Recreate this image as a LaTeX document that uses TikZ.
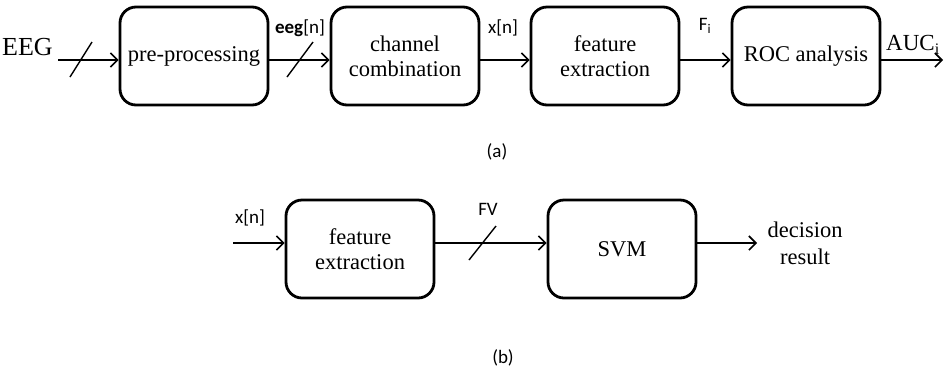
\documentclass[tikz,border=0pt]{standalone}
\usepackage{fontspec}
\setmainfont{Liberation Serif}
\newfontfamily\calib{Carlito}
\usetikzlibrary{arrows.meta}
\begin{document}
\begin{tikzpicture}[x=1pt,y=-1pt,
  blk/.style={draw,line width=2.8pt,rounded corners=16pt,minimum width=148pt,minimum height=98pt,align=center,font=\fontsize{22.5}{25}\selectfont,inner sep=0pt},
  conn/.style={line width=1.6pt,-{Straight Barb[length=7pt,width=14pt,line width=1.6pt]}},
  slash/.style={line width=1.4pt},
  lbl/.style={font=\calib\fontsize{19}{22}\selectfont,inner sep=0pt},
  tlbl/.style={font=\fontsize{23}{25}\selectfont,inner sep=0pt}]
\useasboundingbox (0,0) rectangle (944,376);
% row (a)
\node[blk] (pp) at (194,56) {\raisebox{-5pt}{pre-processing}};
\node[blk] (cc) at (405,56) {channel\\combination};
\node[blk] (fe) at (605,56) {feature\\extraction};
\node[blk] (roc) at (806,56) {\raisebox{-5pt}{ROC analysis}};
\coordinate (in) at (58,60);
\coordinate (out) at (943,60);
\node[tlbl,font=\fontsize{26}{28}\selectfont,anchor=west] (eeg) at (2,47) {EEG};
\draw[conn] (in) -- (in -| pp.west);
\draw[conn] (pp.east |- in) -- (cc.west |- in);
\draw[conn] (cc.east |- in) -- (fe.west |- in);
\draw[conn] (fe.east |- in) -- (roc.west |- in);
\draw[conn] (roc.east |- in) -- (out);
\coordinate (s1a) at (70,77); \coordinate (s1b) at (92,42);
\draw[slash] (s1a) -- (s1b);
\coordinate (s2a) at (287,77); \coordinate (s2b) at (313,42);
\draw[slash] (s2a) -- (s2b);
\node[lbl] (l1) at (300,28) {\textbf{eeg}[n]};
\node[lbl] (l2) at (503,28) {x[n]};
\node[lbl] (l3) at (705,26) {F\textsubscript{i}};
\node[tlbl,anchor=west] (l4) at (886,45) {AUC\textsubscript{i}};
\node[lbl] (ca) at (497,152) {(a)};
% row (b)
\node[blk] (fe2) at (360,249) {feature\\extraction};
\node[blk] (svm) at (622,249) {\raisebox{-4pt}{SVM}};
\coordinate (in2) at (233,243);
\coordinate (out2) at (757,243);
\draw[conn] (in2) -- (in2 -| fe2.west);
\draw[conn] (fe2.east |- in2) -- (svm.west |- in2);
\draw[conn] (svm.east |- in2) -- (out2);
\coordinate (s3a) at (469,260); \coordinate (s3b) at (496,226);
\draw[slash] (s3a) -- (s3b);
\node[lbl] (l5) at (250,218) {x[n]};
\node[lbl] (l6) at (488,209) {FV};
\node[align=center,font=\fontsize{22.5}{27}\selectfont,inner sep=0pt] (dr) at (805,243) {decision\\result};
\node[lbl] (cb) at (503,358) {(b)};
\end{tikzpicture}
\end{document}
